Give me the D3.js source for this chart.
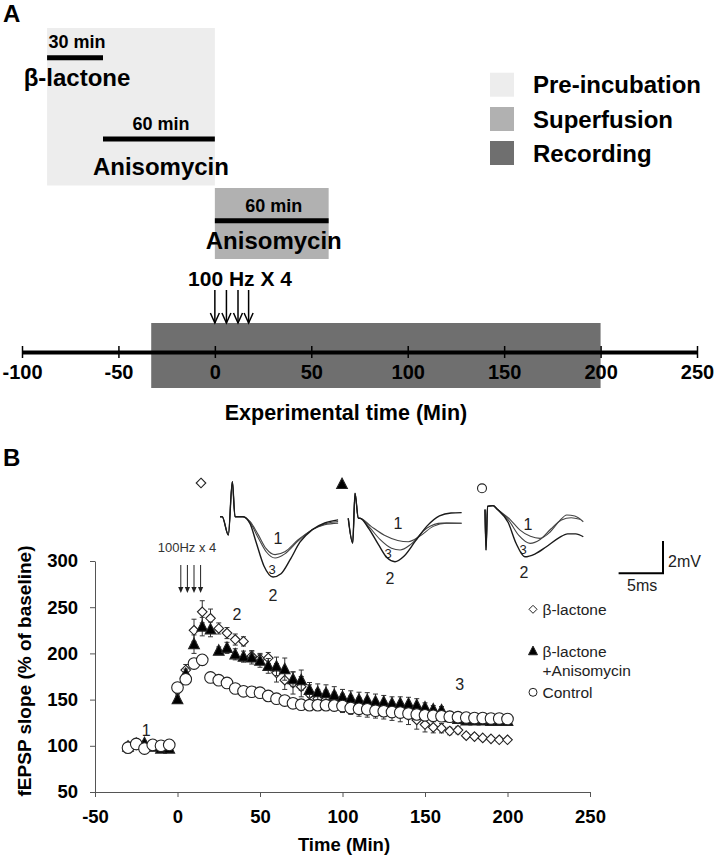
<!DOCTYPE html>
<html>
<head>
<meta charset="utf-8">
<script src="https://cdn.jsdelivr.net/npm/d3@7"></script>
<style>
    body { margin: 0; background: #fff; }
    svg { display: block; font-family: 'Liberation Sans', Arial, sans-serif; }
</style>
</head>
<body>
<div id="chart"></div>
<script>
(function () {
    // ---- panel A: protocol ----
    let ticksA = [-100, -50, 0, 50, 100, 150, 200, 250];
    let phaseNames = ['Pre-incubation', 'Superfusion', 'Recording'];
    let phaseStart = [-87, 0, -33];
    let phaseEnd = [0, 59, 200];
    let drugNames = ['β-lactone', 'Anisomycin', 'Anisomycin'];
    let drugLabels = ['30 min', '60 min', '60 min'];
    let drugStart = [-87, -58, 0];
    let drugEnd = [-58, 0, 59];
    let tetanusA = [0, 6, 12, 17.5];

    // ---- panel B: fEPSP slope (% of baseline) ----
    let ticksBx = [-50, 0, 50, 100, 150, 200, 250];
    let ticksBy = [50, 100, 150, 200, 250, 300];
    let timeMin = [-30, -25, -20, -15, -10, -5,
        0, 5, 10, 15, 20, 25, 30, 35, 40, 45, 50, 55, 60, 65, 70, 75, 80, 85, 90, 95, 100,
        105, 110, 115, 120, 125, 130, 135, 140, 145, 150, 155, 160, 165, 170, 175, 180, 185, 190, 195, 200];
    let lactone = [100, 101, 99, 100, 99, 100,
        160, 182, 225, 245, 238, 227, 222, 215, 213, 197, 194, 195, 179, 171, 168, 164, 156, 151, 150, 148, 146,
        144, 142, 141, 140, 139, 137.5, 136, 133, 128, 123, 120, 119, 116, 117, 111, 110, 108.5, 107.5, 106.5, 106.5];
    let lactoneSem = [2, 2, 2, 2, 2, 2,
        5, 6, 12, 12, 10, 6, 6, 6, 5, 6, 6, 6, 10, 10, 12, 11, 10, 10, 10, 10, 10,
        10, 10, 10, 10, 10, 10, 10, 10, 10, 8, 6, 5, 4, 4, 3, 3, 2, 2, 2, 2];
    let lactAniso = [99, 102, 103, 99, 97, 97,
        150.5, 178, 210, 229, 226, 203, 206, 199, 196.5, 195.5, 192, 186.5, 186, 183, 172, 171, 160.5, 158, 157, 155, 153,
        151.5, 150, 149.5, 148, 147.5, 146, 146, 145.5, 144, 141.5, 139.5, 138.5, 131, 129, 127.5, 127.5, 127.5, 127, 127, 127];
    let lactAnisoSem = [2, 2, 2, 2, 2, 2,
        3, 5, 10, 10, 8, 4, 6, 6, 6, 7, 7, 8, 10, 12, 8, 11, 8, 9, 9, 9, 8,
        8, 8, 8, 8, 7, 7, 7, 7, 7, 5, 4, 4, 3, 3, 3, 3, 3, 3, 3, 3];
    let control = [98, 102, 97, 101, 100, 101,
        163, 172, 189, 193, 174, 171, 168, 162, 159, 158.5, 157.5, 154, 151, 149, 146, 144.5, 144, 144, 144, 143.5, 143,
        141, 140, 139.5, 138, 137.5, 136.5, 136, 135, 134, 133, 132.5, 132, 131.5, 131, 130.5, 130, 130, 129.5, 129.5, 129];
    let controlSem = [2, 2, 2, 2, 2, 2,
        4, 4, 4, 4, 3, 3, 3, 3, 3, 3, 3, 3, 3, 3, 4, 4, 4, 4, 4, 4, 4,
        4, 4, 4, 4, 4, 4, 4, 4, 4, 4, 3, 3, 3, 3, 3, 3, 3, 3, 3, 3];
    let tetanusB = [2, 6, 10, 14];
    let phaseMarks = ['1', '2', '3'];
    let phaseMarkTime = [-19, 36, 171];
    let phaseMarkValue = [117, 243, 167];

    // example traces (ms, mV), numbered 1, 2, 3 as in the time course
    let diaArtifact = [[0, 0], [0.25, 0], [0.94, -1.13], [1.39, 2.17], [1.69, 0], [2.6, 0]];
    let diaTrace1 = [[3.4, -0.31], [4.3, -1.11], [5.2, -1.98], [6.2, -2.35], [7.3, -2.17], [8.8, -1.43], [10.4, -0.8], [11.8, -0.5], [13.3, -0.4]];
    let diaTrace2 = [[3.4, -0.45], [4.05, -1.55], [4.95, -3.05], [5.97, -3.73], [6.87, -3.53], [7.88, -2.68], [9.0, -1.58], [10.4, -0.8], [11.8, -0.39], [13.3, -0.2]];
    let diaTrace3 = [[3.4, -0.37], [4.3, -1.3], [5.2, -2.17], [6.2, -2.56], [7.3, -2.3], [8.8, -1.5], [10.4, -0.8], [11.8, -0.45], [13.3, -0.3]];
    let triArtifact = [[0.93, 0], [1.43, -1.53], [1.69, 1.55], [2.06, 0], [2.25, 0]];
    let triTrace1 = [[3.5, -0.5], [5, -1.05], [6.5, -1.37], [7.7, -1.45], [9, -1.1], [10.5, -0.5], [12, -0.3], [13.7, -0.31]];
    let triTrace2 = [[3.2, -0.6], [4.3, -1.6], [5.3, -2.45], [6.19, -2.69], [7.2, -2.35], [8.5, -1.4], [9.76, -0.5], [11.2, 0.15], [12.5, 0.33], [13.7, 0.35]];
    let triTrace3 = [[3.3, -0.55], [4.5, -1.3], [5.8, -1.85], [6.76, -1.96], [8, -1.6], [9.76, -0.62], [11.5, -0.3], [13.7, -0.31]];
    let cirArtifact = [[1.69, -0.1], [1.8, -2.6], [1.98, 0.1], [2.6, 0.15], [3.04, -0.06]];
    let cirTrace1 = [[4.5, -0.7], [5.6, -1.35], [6.8, -1.75], [7.88, -1.88], [9, -1.5], [10, -0.85], [10.9, -0.43], [11.8, -0.5], [12.76, -0.85]];
    let cirTrace2 = [[4.3, -0.9], [5.2, -2.2], [6.19, -3.02], [7.3, -2.85], [8.6, -2.4], [10, -1.85], [11, -1.6], [11.9, -1.6], [12.76, -1.78]];
    let cirTrace3 = [[4.4, -0.8], [5.5, -1.7], [6.76, -2.19], [7.9, -1.95], [9.1, -1.3], [10.3, -0.75], [11.4, -0.6], [12.4, -0.7]];

    let svg = d3.select('#chart').append('svg')
        .attr('width', 714)
        .attr('height', 858);

    let font = "'Liberation Sans', Arial, sans-serif";
    let phaseColors = ['#ededed', '#b1b1b1', '#6f6f6f'];

    // ================= A =================
    let xA = d3.scaleLinear().domain([-100, 250]).range([22, 697]);
    let axisYA = 352;

    svg.append('text').attr('x', 3).attr('y', 22)
        .attr('font-size', 24).attr('font-weight', 'bold').text('A');

    let phaseTop = [28, 188, 323];
    let phaseBottom = [185.5, 259, 388];
    svg.append('g').selectAll('rect')
        .data(phaseNames)
        .enter()
        .append('rect')
        .attr('x', (d, i) => xA(phaseStart[i]))
        .attr('width', (d, i) => xA(phaseEnd[i]) - xA(phaseStart[i]))
        .attr('y', (d, i) => phaseTop[i])
        .attr('height', (d, i) => phaseBottom[i] - phaseTop[i])
        .attr('fill', (d, i) => phaseColors[i]);

    // drug bars
    let barY = [57.7, 139, 220.7];
    let durY = [48, 130, 212];
    let nameY = [86, 175, 249];
    let drugs = svg.append('g');
    drugNames.forEach(function (name, i) {
        let mid = (xA(drugStart[i]) + xA(drugEnd[i])) / 2 + 2;
        drugs.append('line')
            .attr('x1', xA(drugStart[i])).attr('x2', xA(drugEnd[i]))
            .attr('y1', barY[i]).attr('y2', barY[i])
            .attr('stroke', '#000').attr('stroke-width', 5);
        drugs.append('text').attr('x', mid).attr('y', durY[i])
            .attr('text-anchor', 'middle').attr('font-size', 18).attr('font-weight', 'bold')
            .text(drugLabels[i]);
        drugs.append('text').attr('x', mid).attr('y', nameY[i])
            .attr('text-anchor', 'middle').attr('font-size', 24).attr('font-weight', 'bold')
            .text(name);
    });

    // legend A
    let legA = svg.append('g');
    let legAY = [72.7, 107, 141];
    phaseNames.forEach(function (name, i) {
        legA.append('rect').attr('x', 490).attr('y', legAY[i])
            .attr('width', 24).attr('height', 24).attr('fill', phaseColors[i]);
        legA.append('text').attr('x', 533).attr('y', legAY[i] + 20.5)
            .attr('font-size', 24).attr('font-weight', 'bold').text(name);
    });

    // timeline axis
    let gA = svg.append('g')
        .attr('transform', 'translate(0,' + axisYA + ')')
        .call(d3.axisBottom(xA).tickValues(ticksA).tickSize(6).tickSizeOuter(0)
            .tickFormat(d => String(d)))
        .attr('font-family', font);
    gA.select('.domain').attr('stroke', '#000').attr('stroke-width', 4);
    gA.selectAll('.tick line').attr('y1', -6).attr('y2', 6).attr('stroke', '#000').attr('stroke-width', 1.5);
    gA.selectAll('.tick text').attr('y', 13).attr('font-size', 20).attr('font-weight', 'bold').attr('fill', '#000');

    svg.append('text').attr('x', 346).attr('y', 420)
        .attr('text-anchor', 'middle').attr('font-size', 21.5).attr('font-weight', 'bold')
        .text('Experimental time (Min)');

    // tetanus arrows A
    svg.append('text').attr('x', 240).attr('y', 286)
        .attr('text-anchor', 'middle').attr('font-size', 21).attr('font-weight', 'bold')
        .text('100 Hz X 4');
    let arrA = svg.append('g').attr('stroke', '#000').attr('stroke-width', 1.5).attr('fill', 'none');
    tetanusA.forEach(function (t) {
        let x = xA(t);
        arrA.append('line').attr('x1', x).attr('x2', x).attr('y1', 290).attr('y2', 323);
        arrA.append('path').attr('d', 'M' + (x - 4.5) + ',313L' + x + ',323L' + (x + 4.5) + ',313');
    });

    // ================= B =================
    let xB = d3.scaleLinear().domain([-50, 250]).range([95, 590]);
    let yB = d3.scaleLinear().domain([50, 300]).range([792, 561]);

    svg.append('text').attr('x', 3).attr('y', 466)
        .attr('font-size', 24).attr('font-weight', 'bold').text('B');

    let gy = svg.append('g')
        .attr('transform', 'translate(95,0)')
        .call(d3.axisLeft(yB).tickValues(ticksBy).tickSizeInner(5).tickSizeOuter(0).tickPadding(12)
            .tickFormat(d => String(d)))
        .attr('font-family', font);
    let gx = svg.append('g')
        .attr('transform', 'translate(0,792)')
        .call(d3.axisBottom(xB).tickValues(ticksBx).tickSizeInner(5).tickSizeOuter(0).tickPadding(13)
            .tickFormat(d => String(d)))
        .attr('font-family', font);
    [gx, gy].forEach(function (g) {
        g.select('.domain').attr('stroke', '#555');
        g.selectAll('.tick line').attr('stroke', '#555');
        g.selectAll('.tick text').attr('font-size', 18.5).attr('font-weight', 'bold').attr('fill', '#000');
    });

    svg.append('text')
        .attr('transform', 'translate(31,671) rotate(-90)')
        .attr('text-anchor', 'middle').attr('font-size', 19).attr('font-weight', 'bold')
        .text('fEPSP slope (% of baseline)');
    svg.append('text').attr('x', 344).attr('y', 851)
        .attr('text-anchor', 'middle').attr('font-size', 18.5).attr('font-weight', 'bold')
        .text('Time (Min)');

    // symbols
    let diamond = {
        draw: function (ctx, size) {
            let r = Math.sqrt(size / 2);
            ctx.moveTo(0, -r); ctx.lineTo(r, 0); ctx.lineTo(0, r); ctx.lineTo(-r, 0); ctx.closePath();
        }
    };
    let triangle = {
        draw: function (ctx, size) {
            let w = Math.sqrt(size);
            ctx.moveTo(0, -w * 0.55); ctx.lineTo(w * 0.5, w * 0.42); ctx.lineTo(-w * 0.5, w * 0.42); ctx.closePath();
        }
    };

    let points = function (vals, sems) {
        return timeMin.map((t, i) => ({t: t, v: vals[i], s: sems[i]}));
    };

    let drawSeries = function (data, sym, size, fill) {
        let g = svg.append('g');
        let bars = g.append('g').attr('stroke', '#333').attr('stroke-width', 1);
        data.forEach(function (d) {
            let x = xB(d.t);
            bars.append('line').attr('x1', x).attr('x2', x).attr('y1', yB(d.v - d.s)).attr('y2', yB(d.v + d.s));
            bars.append('line').attr('x1', x - 2.5).attr('x2', x + 2.5).attr('y1', yB(d.v + d.s)).attr('y2', yB(d.v + d.s));
            bars.append('line').attr('x1', x - 2.5).attr('x2', x + 2.5).attr('y1', yB(d.v - d.s)).attr('y2', yB(d.v - d.s));
        });
        g.append('g').selectAll('path')
            .data(data)
            .enter()
            .append('path')
            .attr('transform', d => 'translate(' + xB(d.t) + ',' + yB(d.v) + ')')
            .attr('d', d3.symbol().type(sym).size(size))
            .attr('fill', fill)
            .attr('stroke', '#222')
            .attr('stroke-width', 1.1);
    };

    drawSeries(points(lactone, lactoneSem), diamond, 46, '#fff');
    drawSeries(points(lactAniso, lactAnisoSem), triangle, 115, '#000');
    drawSeries(points(control, controlSem), d3.symbolCircle, Math.PI * 5.8 * 5.8, '#fff');

    // phase numbers on the time course
    svg.append('g').selectAll('text')
        .data(phaseMarks)
        .enter()
        .append('text')
        .attr('x', (d, i) => xB(phaseMarkTime[i]))
        .attr('y', (d, i) => yB(phaseMarkValue[i]) + 6)
        .attr('text-anchor', 'middle').attr('font-size', 16).attr('fill', '#222')
        .text(d => d);

    // tetanus arrows B
    svg.append('text').attr('x', 187).attr('y', 552)
        .attr('text-anchor', 'middle').attr('font-size', 13).attr('fill', '#333')
        .text('100Hz x 4');
    let arrB = svg.append('g');
    tetanusB.forEach(function (t) {
        let x = xB(t);
        arrB.append('line').attr('x1', x).attr('x2', x).attr('y1', 565).attr('y2', 588)
            .attr('stroke', '#222').attr('stroke-width', 1);
        arrB.append('path').attr('d', 'M' + (x - 2.6) + ',587L' + (x + 2.6) + ',587L' + x + ',593Z').attr('fill', '#222');
    });

    // legend B
    let legB = svg.append('g');
    let legSym = [diamond, triangle, d3.symbolCircle];
    let legSize = [32, 80, Math.PI * 16];
    let legFill = ['#fff', '#000', '#fff'];
    let legSymY = [609.3, 651, 692.3];
    let legText = [['β-lactone'], ['β-lactone', '+Anisomycin'], ['Control']];
    legSym.forEach(function (s, i) {
        legB.append('path')
            .attr('transform', 'translate(533,' + legSymY[i] + ')')
            .attr('d', d3.symbol().type(s).size(legSize[i]))
            .attr('fill', legFill[i]).attr('stroke', '#222').attr('stroke-width', 1);
        legText[i].forEach(function (line, j) {
            legB.append('text').attr('x', 542.5).attr('y', legSymY[i] + 5.5 + j * 19.5)
                .attr('font-size', 15.5).attr('fill', '#222').text(line);
        });
    });

    // example traces
    let msX = d3.scaleLinear().domain([0, 5]).range([0, 44.4]);
    let mvY = d3.scaleLinear().domain([0, 2]).range([0, -32.3]);
    let traceLine = d3.line()
        .x(d => msX(d[0]))
        .y(d => mvY(d[1]))
        .curve(d3.curveMonotoneX);

    let insets = [
        {x: 220, y: 516.7, art: diaArtifact, tr: [diaTrace1, diaTrace3, diaTrace2],
            sym: diamond, symSize: 46, symFill: '#fff', symX: 201, symY: 483,
            lab: [[58, 27], [52, 57], [53, 84]]},
        {x: 340, y: 518.3, art: triArtifact, tr: [triTrace1, triTrace3, triTrace2],
            sym: triangle, symSize: 115, symFill: '#000', symX: 342, symY: 484,
            lab: [[58, 11], [48, 40], [50, 66]]},
        {x: 470, y: 508, art: cirArtifact, tr: [cirTrace1, cirTrace3, cirTrace2],
            sym: d3.symbolCircle, symSize: Math.PI * 20, symFill: '#fff', symX: 482, symY: 488.3,
            lab: [[58, 22], [53, 46], [54, 70]]}
    ];
    let labNames = ['1', '3', '2'];
    insets.forEach(function (ins) {
        let g = svg.append('g').attr('transform', 'translate(' + ins.x + ',' + ins.y + ')');
        ins.tr.forEach(function (tr, k) {
            g.append('path')
                .attr('d', traceLine(ins.art.concat(tr)))
                .attr('fill', 'none')
                .attr('stroke', k === 2 ? '#1a1a1a' : '#444')
                .attr('stroke-width', k === 2 ? 1.4 : 1.1);
        });
        labNames.forEach(function (n, k) {
            g.append('text').attr('x', ins.lab[k][0]).attr('y', ins.lab[k][1])
                .attr('text-anchor', 'middle')
                .attr('font-size', k === 1 ? 13 : 16).attr('fill', '#222').text(n);
        });
        svg.append('path')
            .attr('transform', 'translate(' + ins.symX + ',' + ins.symY + ')')
            .attr('d', d3.symbol().type(ins.sym).size(ins.symSize))
            .attr('fill', ins.symFill).attr('stroke', '#222').attr('stroke-width', 1.1);
    });

    // scale bar 5 ms / 2 mV
    let sb = svg.append('g').attr('transform', 'translate(663,573.3)');
    sb.append('path')
        .attr('d', 'M' + (-msX(5)) + ',0H0V' + mvY(2))
        .attr('fill', 'none').attr('stroke', '#000').attr('stroke-width', 2);
    sb.append('text').attr('x', 5).attr('y', -6).attr('font-size', 16).attr('fill', '#222').text('2mV');
    sb.append('text').attr('x', -36).attr('y', 17.5).attr('font-size', 16).attr('fill', '#222').text('5ms');
})();
</script>
</body>
</html>
